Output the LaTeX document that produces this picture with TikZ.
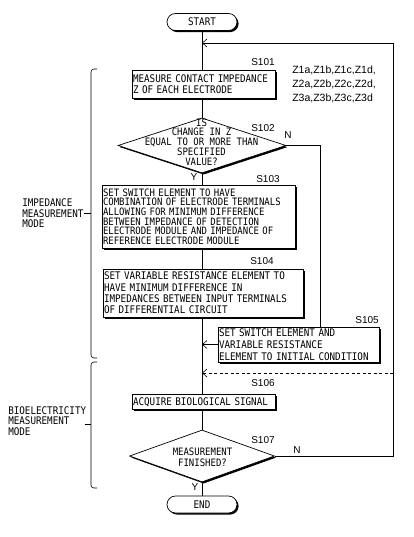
\documentclass[tikz,border=0pt]{standalone}
\usepackage{fontspec}
\setmainfont{Liberation Sans}
\newfontfamily\gothic[FakeStretch=0.88]{DejaVu Sans Mono}
\usetikzlibrary{positioning, shapes.geometric, shadows, arrows.meta}

\begin{document}
\begin{tikzpicture}[x=1pt, y=-1pt, line width=0.6pt,
    >={Straight Barb[length=4.5pt,width=8pt]},
    flowtext/.style={font=\gothic\fontsize{10.5}{10.5}\selectfont},
    shade/.style={drop shadow={shadow xshift=1.6pt, shadow yshift=-1.6pt, opacity=1, fill=black}},
    stepbox/.style={draw, fill=white, line width=0.7pt, flowtext, align=left, inner xsep=1pt, inner ysep=0pt, shade},
    terminal/.style={draw, fill=white, line width=0.7pt, flowtext, rounded corners=8.5pt, minimum width=70pt, minimum height=17pt, inner sep=0pt, shade},
    decision/.style={diamond, draw, fill=white, line width=0.7pt, inner sep=0pt, shade},
    dtext/.style={flowtext, align=center, inner sep=0pt},
    steplbl/.style={font=\fontsize{10}{12}\selectfont, inner sep=0pt},
    modetext/.style={flowtext, align=left, inner sep=0pt, anchor=west}]
    \useasboundingbox (0,0) rectangle (414,537);

    % Flow steps
    \node[terminal] (start) at (202,22) {START};
    \node[stepbox, text width=141pt, minimum height=28pt] (s101) at (203.5,84)
        {MEASURE CONTACT IMPEDANCE\\Z OF EACH ELECTRODE};
    \node[decision, minimum width=168pt, minimum height=55pt] (s102) at (202,145.5) {};
    \node[dtext, font=\gothic\fontsize{10.2}{9.8}\selectfont] (s102t) at (201.5,142) {IS\\CHANGE IN Z\\EQUAL TO OR MORE THAN\\SPECIFIED\\VALUE?};
    \node[stepbox, text width=191pt, minimum height=63pt, font=\gothic\fontsize{10.2}{9.6}\selectfont] (s103) at (198.5,216.5)
        {SET SWITCH ELEMENT TO HAVE\\COMBINATION OF ELECTRODE TERMINALS\\ALLOWING FOR MINIMUM DIFFERENCE\\BETWEEN IMPEDANCE OF DETECTION\\ELECTRODE MODULE AND IMPEDANCE OF\\REFERENCE ELECTRODE MODULE};
    \node[stepbox, text width=198pt, minimum height=48pt, font=\gothic\fontsize{10.5}{11.3}\selectfont] (s104) at (203,293)
        {SET VARIABLE RESISTANCE ELEMENT TO\\HAVE MINIMUM DIFFERENCE IN\\IMPEDANCES BETWEEN INPUT TERMINALS\\OF DIFFERENTIAL CIRCUIT};
    \node[stepbox, text width=159pt, minimum height=35pt, font=\gothic\fontsize{10.5}{11.8}\selectfont] (s105) at (298.5,344.5)
        {SET SWITCH ELEMENT AND\\VARIABLE RESISTANCE\\ELEMENT TO INITIAL CONDITION};
    \node[stepbox, text width=141pt, minimum height=15pt] (s106) at (203.5,402) {ACQUIRE BIOLOGICAL SIGNAL};
    \node[decision, minimum width=145pt, minimum height=52pt] (s107) at (202,456) {};
    \node[dtext, font=\gothic\fontsize{10.2}{11}\selectfont] (s107t) at (202.5,457.5) {MEASUREMENT\\FINISHED?};
    \node[terminal] (end) at (202,504.5) {END};

    % Step numbers
    \node[steplbl] (l101) at (263,62) {S101};
    \node[steplbl] (l102) at (263,128) {S102};
    \node[steplbl] (l103) at (268,179) {S103};
    \node[steplbl] (l104) at (262,261) {S104};
    \node[steplbl] (l105) at (367,320) {S105};
    \node[steplbl] (l106) at (263,383) {S106};
    \node[steplbl] (l107) at (263,440) {S107};
    \node[steplbl] (n102) at (288,135) {N};
    \node[steplbl] (y102) at (194,177) {Y};
    \node[steplbl] (n107) at (297,450) {N};
    \node[steplbl] (y107) at (195,487) {Y};
    \node[font=\fontsize{10.5}{14}\selectfont, align=left, anchor=west, inner sep=0pt] (zlist) at (292,84.5)
        {Z1a,Z1b,Z1c,Z1d,\\Z2a,Z2b,Z2c,Z2d,\\Z3a,Z3b,Z3c,Z3d};

    % Main line
    \coordinate (loop) at (393,43);
    \coordinate (nturn) at (320,145.5);
    \coordinate (dash) at (393,373);
    \draw (start.south) -- (start.south |- s101.north);
    \draw (start |- s101.south) -- (s102.north);
    \draw (s102.south) -- (s102.south |- s103.north);
    \draw (start |- s103.south) -- (start |- s104.north);
    \draw (start |- s104.south) -- (start |- s106.north);
    \draw (start |- s106.south) -- (s107.north);
    \draw (s107.south) -- (end.north);

    % Branches
    \draw (s102.east) -- (nturn) -- (nturn |- s105.north);
    \draw[->] (s105.west) -- (start |- s105.west);
    \draw[->, dash pattern=on 3pt off 2.5pt] (dash) -- (start |- dash);
    \draw[->] (s107.east) -| (loop) -- (start |- loop);

    % Mode brackets
    \node[modetext] (impmode) at (22,213.5) {IMPEDANCE\\MEASUREMENT\\MODE};
    \node[modetext] (biomode) at (8,421) {BIOELECTRICITY\\MEASUREMENT\\MODE};
    \draw[rounded corners=3pt] (97,69) -| (91,358) -- (97,358);
    \draw (84,213.5) -- (91,213.5);
    \draw[rounded corners=3pt] (97,362) -| (91,488) -- (97,488);
    \draw (85,424) -- (91,424);
\end{tikzpicture}
\end{document}
